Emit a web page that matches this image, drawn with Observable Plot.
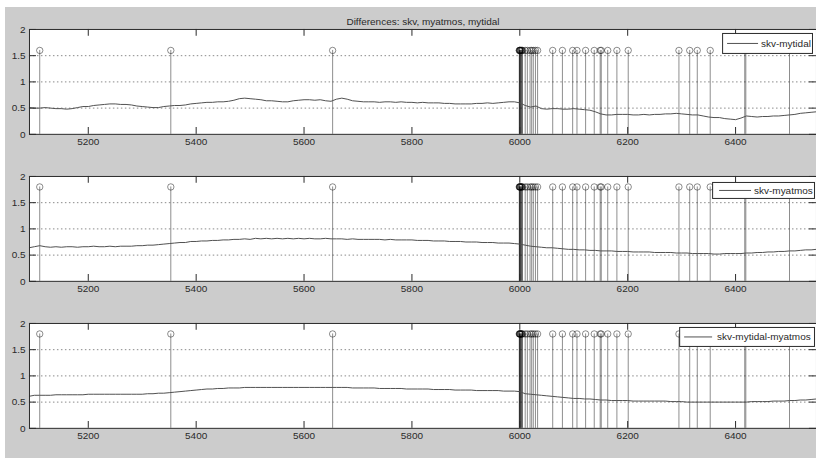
<!DOCTYPE html>
<html>
<head>
<meta charset="utf-8">
<script src="https://cdn.jsdelivr.net/npm/d3@7"></script>
<script src="https://cdn.jsdelivr.net/npm/@observablehq/plot@0.6"></script>
<style>
  html, body { margin: 0; padding: 0; background: #ffffff; overflow: hidden; }
  #fig { position: absolute; left: 5px; top: 7px; width: 811px; height: 451px; background: #cccccc; }
  .panel { position: absolute; left: 0; }
</style>
</head>
<body>
<div id="fig"></div>
<div id="panels"></div>
<script>
// Sampling grid of the difference series (one value every 10 units from 5090).
const sampleStart = 5090;
const sampleStep = 10;

// skv - mytidal
const skvMytidal = [
  0.51,0.50,0.50,0.51,0.50,0.49,0.49,0.48,0.49,0.51, // 5090-5180
  0.53,0.53,0.55,0.56,0.57,0.58,0.58,0.57,0.57,0.56, // 5190-5280
  0.54,0.53,0.52,0.51,0.51,0.53,0.54,0.55,0.55,0.56, // 5290-5380
  0.58,0.59,0.60,0.61,0.61,0.62,0.62,0.63,0.65,0.68, // 5390-5480
  0.69,0.68,0.67,0.66,0.64,0.64,0.63,0.62,0.62,0.64, // 5490-5580
  0.65,0.66,0.66,0.65,0.66,0.64,0.63,0.67,0.69,0.67, // 5590-5680
  0.64,0.63,0.62,0.62,0.62,0.61,0.62,0.62,0.61,0.62, // 5690-5780
  0.61,0.61,0.60,0.61,0.60,0.60,0.60,0.59,0.59,0.58, // 5790-5880
  0.58,0.58,0.58,0.59,0.59,0.60,0.59,0.60,0.61,0.62, // 5890-5980
  0.62,0.60,0.55,0.52,0.54,0.49,0.48,0.49,0.49,0.48, // 5990-6080
  0.48,0.49,0.48,0.47,0.46,0.43,0.39,0.37,0.37,0.38, // 6090-6180
  0.38,0.38,0.37,0.37,0.38,0.37,0.38,0.38,0.39,0.39, // 6190-6280
  0.40,0.39,0.38,0.37,0.37,0.35,0.33,0.32,0.32,0.30, // 6290-6380
  0.29,0.28,0.31,0.35,0.34,0.33,0.34,0.34,0.35,0.35, // 6390-6480
  0.36,0.37,0.38,0.40,0.41,0.42,0.43                 // 6490-6550
];

// skv - myatmos
const skvMyatmos = [
  0.64,0.66,0.68,0.66,0.65,0.66,0.65,0.66,0.66,0.65,
  0.66,0.66,0.67,0.66,0.66,0.67,0.66,0.67,0.67,0.67,
  0.68,0.68,0.69,0.69,0.70,0.71,0.72,0.73,0.74,0.74,
  0.76,0.76,0.77,0.77,0.78,0.78,0.79,0.79,0.80,0.80,
  0.81,0.80,0.82,0.81,0.82,0.81,0.82,0.81,0.82,0.81,
  0.82,0.81,0.82,0.81,0.81,0.82,0.81,0.81,0.81,0.80,
  0.81,0.80,0.80,0.80,0.80,0.80,0.79,0.80,0.79,0.79,
  0.79,0.79,0.78,0.78,0.78,0.77,0.77,0.77,0.76,0.76,
  0.76,0.75,0.75,0.75,0.74,0.74,0.74,0.73,0.73,0.73,
  0.72,0.71,0.69,0.67,0.66,0.65,0.64,0.64,0.63,0.62,
  0.61,0.61,0.60,0.60,0.59,0.59,0.58,0.58,0.58,0.57,
  0.57,0.57,0.56,0.56,0.56,0.56,0.55,0.55,0.55,0.55,
  0.54,0.54,0.54,0.53,0.53,0.53,0.53,0.52,0.52,0.53,
  0.53,0.53,0.53,0.54,0.54,0.55,0.55,0.56,0.56,0.57,
  0.57,0.58,0.58,0.59,0.60,0.60,0.61
];

// skv - mytidal - myatmos
const skvMytidalMyatmos = [
  0.61,0.63,0.63,0.63,0.63,0.64,0.64,0.64,0.64,0.64,
  0.64,0.65,0.65,0.65,0.65,0.65,0.65,0.65,0.65,0.65,
  0.65,0.65,0.66,0.66,0.67,0.67,0.68,0.69,0.70,0.71,
  0.72,0.73,0.74,0.75,0.75,0.76,0.76,0.77,0.77,0.77,
  0.78,0.78,0.78,0.78,0.78,0.78,0.78,0.78,0.78,0.78,
  0.78,0.78,0.78,0.78,0.78,0.78,0.78,0.78,0.78,0.78,
  0.77,0.77,0.77,0.77,0.77,0.76,0.76,0.76,0.76,0.76,
  0.75,0.75,0.75,0.75,0.75,0.74,0.74,0.74,0.74,0.73,
  0.73,0.73,0.73,0.72,0.72,0.72,0.72,0.72,0.71,0.71,
  0.71,0.70,0.66,0.65,0.64,0.63,0.62,0.61,0.60,0.59,
  0.58,0.57,0.57,0.56,0.56,0.55,0.54,0.54,0.53,0.53,
  0.53,0.53,0.52,0.52,0.52,0.52,0.52,0.52,0.52,0.51,
  0.51,0.51,0.50,0.50,0.50,0.50,0.50,0.50,0.50,0.50,
  0.50,0.50,0.50,0.50,0.51,0.51,0.51,0.51,0.52,0.52,
  0.52,0.53,0.53,0.54,0.54,0.55,0.56
];

// Event times shown as stems
const eventTimes = [
  5110, 5353, 5653,
  5999, 5999.5, 6000, 6000.5, 6001, 6002, 6003, 6004, 6005,
  6010, 6014, 6019, 6022, 6025, 6029, 6033,
  6061, 6079, 6098, 6106, 6122, 6138, 6149, 6151, 6163, 6180, 6201,
  6295, 6315, 6329, 6353, 6417, 6419, 6500
];

const xTicks = [5200, 5400, 5600, 5800, 6000, 6200, 6400];
const yTicks = [0, 0.5, 1, 1.5, 2];
const gridLevels = [0.5, 1, 1.5];
const xDomain = [5091, 6550];

const titleText = "Differences: skv, myatmos, mytidal";

const panels = [
  {name: "skv-mytidal", values: skvMytidal, stemHeight: 1.6,
   legend: {x: 723, y: 33, w: 90, h: 20, lx1: 728, lx2: 759, tx: 762}},
  {name: "skv-myatmos", values: skvMyatmos, stemHeight: 1.8,
   legend: {x: 713, y: 35, w: 102, h: 16, lx1: 720, lx2: 752, tx: 755}},
  {name: "skv-mytidal-myatmos", values: skvMytidalMyatmos, stemHeight: 1.8,
   legend: {x: 680, y: 33, w: 135, h: 19, lx1: 685, lx2: 713, tx: 718}}
];

const fontFamily = "'Liberation Sans Narrow', 'Liberation Sans', Arial, sans-serif";
const lineColor = "#505050";
const inkColor = "#2a2a2a";
const panelStep = 147;

const host = document.getElementById("panels");

panels.forEach((p, i) => {
  const series = p.values.map((v, k) => ({x: sampleStart + k * sampleStep, y: v}));
  const stems = eventTimes.map(t => ({x: t, y: p.stemHeight}));
  const tx = 13;   // inward tick length along x, data units
  const ty = 0.13; // inward tick length along y, data units

  const marks = [
    Plot.frame({fill: "white", stroke: "none"}),
    Plot.ruleY(gridLevels, {stroke: "#8a8a8a", strokeWidth: 1, strokeDasharray: "1.5,2.5"}),
    Plot.ruleX(stems, {x: "x", y1: 0, y2: "y", stroke: "#000", strokeOpacity: 0.45, strokeWidth: 1}),
    Plot.dot(stems, {x: "x", y: "y", r: 3.2, fill: "none", stroke: "#000", strokeOpacity: 0.45, strokeWidth: 1}),
    Plot.line(series, {x: "x", y: "y", stroke: lineColor, strokeWidth: 1, clip: true}),
    // inward ticks on all four sides
    Plot.ruleX(xTicks, {y1: 0, y2: ty, stroke: inkColor}),
    Plot.ruleX(xTicks, {y1: 2, y2: 2 - ty, stroke: inkColor}),
    Plot.ruleY(yTicks, {x1: xDomain[0], x2: xDomain[0] + tx, stroke: inkColor}),
    Plot.ruleY(yTicks, {x1: xDomain[1] - tx, x2: xDomain[1], stroke: inkColor}),
    Plot.axisX({anchor: "bottom", ticks: xTicks, tickSize: 0, tickPadding: 4, tickFormat: d => String(d), label: null, fill: inkColor}),
    Plot.axisY({anchor: "left", ticks: yTicks, tickSize: 0, tickPadding: 4, tickFormat: d => String(d), label: null, fill: inkColor}),
    Plot.frame({stroke: inkColor, strokeWidth: 1})
  ];
  if (i === 0) {
    marks.push(Plot.text([titleText], {frameAnchor: "top", dy: -12, fill: inkColor, fontSize: 10}));
  }

  const svg = Plot.plot({
    width: 817,
    height: panelStep,
    marginLeft: 29,
    marginRight: 0,
    marginTop: 29,
    marginBottom: 13,
    style: {background: "transparent", overflow: "visible", fontFamily, fontSize: "10px", color: inkColor},
    x: {domain: xDomain},
    y: {domain: [0, 2]},
    marks
  });
  svg.classList.add("panel");
  svg.style.top = (panelStep * i) + "px";
  host.appendChild(svg);

  // legend box in the upper right corner of each axes
  const L = p.legend;
  const g = d3.select(svg).append("g")
    .attr("font-family", fontFamily).attr("font-size", 10).attr("text-anchor", "start");
  g.append("rect").attr("x", L.x + 0.5).attr("y", L.y + 0.5).attr("width", L.w).attr("height", L.h)
    .attr("fill", "white").attr("stroke", inkColor);
  const cy = L.y + L.h / 2 + 0.5;
  g.append("line").attr("x1", L.lx1).attr("x2", L.lx2).attr("y1", cy).attr("y2", cy)
    .attr("stroke", lineColor).attr("stroke-width", 1);
  g.append("text").attr("x", L.tx).attr("y", cy).attr("dy", "0.35em")
    .attr("text-anchor", "start").attr("fill", inkColor).text(p.name);
});
</script>
</body>
</html>
